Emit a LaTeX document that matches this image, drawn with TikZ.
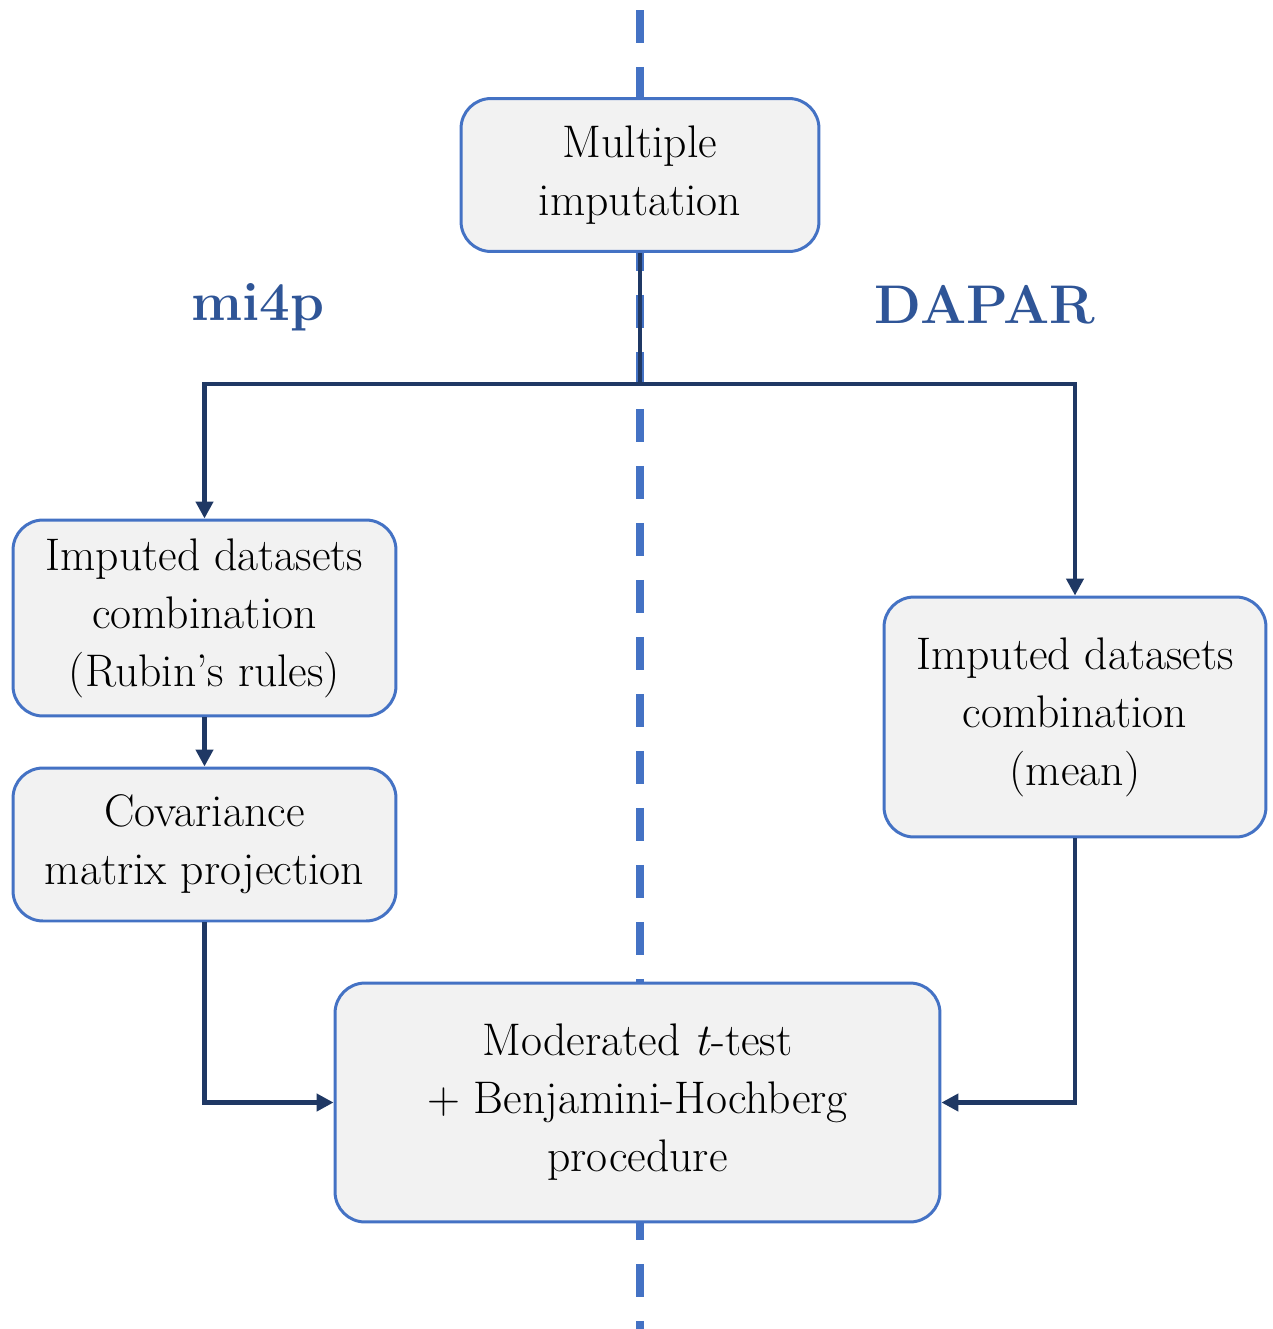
\documentclass[tikz,border=0pt]{standalone}
\usepackage{tikz}
\usetikzlibrary{positioning, arrows.meta, calc}
\definecolor{cbox}{HTML}{F2F2F2}
\definecolor{cedge}{HTML}{4472C4}
\definecolor{cflow}{HTML}{1F3864}
\definecolor{ctool}{HTML}{2F5597}
\tikzset{
  blk/.style={draw=cedge, line width=1.7pt, fill=cbox, rounded corners=0.6cm,
              align=center, font=\fontsize{26}{33}\selectfont, inner sep=0pt},
  tool/.style={font=\fontsize{31}{36}\selectfont\bfseries, text=ctool},
  fl/.style={-{Triangle[length=3.4mm, width=3.4mm]}, draw=cflow, line width=2.8pt},
  split/.style={draw=cedge, line width=4pt, dash pattern=on 0.66cm off 0.48cm, dash phase=0.94cm},
}
\begin{document}
\begin{tikzpicture}[x=0.02cm, y=-0.02cm]
  \useasboundingbox (0,0) rectangle (1273,1329);
  \draw[split] (640,0) -- (640,1329);
  \node[blk, minimum width=7.16cm, minimum height=3.06cm] (mi) at (640,175) {Multiple\\imputation};
  \node[tool] (lmi) at (258,307) {mi4p};
  \node[tool] (ldapar) at (985,305) {DAPAR};
  \node[blk, minimum width=7.66cm, minimum height=3.92cm] (rubin) at (204.5,618) {Imputed datasets\\combination\\(Rubin's rules)};
  \node[blk, minimum width=7.66cm, minimum height=3.06cm] (cov) at (204.5,844.5) {Covariance\\matrix projection};
  \node[blk, minimum width=7.64cm, minimum height=4.8cm] (mean) at (1075,717) {Imputed datasets\\combination\\(mean)};
  \node[blk, minimum width=12.1cm, minimum height=4.78cm] (test) at (637.5,1102.5) {Moderated \textit{t}-test\\+ Benjamini-Hochberg\\procedure};
  \coordinate (fork) at (640,384);
  \draw[draw=cflow, line width=2.8pt] (mi) -- (fork);
  \draw[fl] (fork) -| (rubin);
  \draw[fl] (fork) -| (mean);
  \draw[fl] (rubin) -- (cov);
  \draw[fl] (cov) |- (test);
  \draw[fl] (mean) |- (test);
\end{tikzpicture}
\end{document}
